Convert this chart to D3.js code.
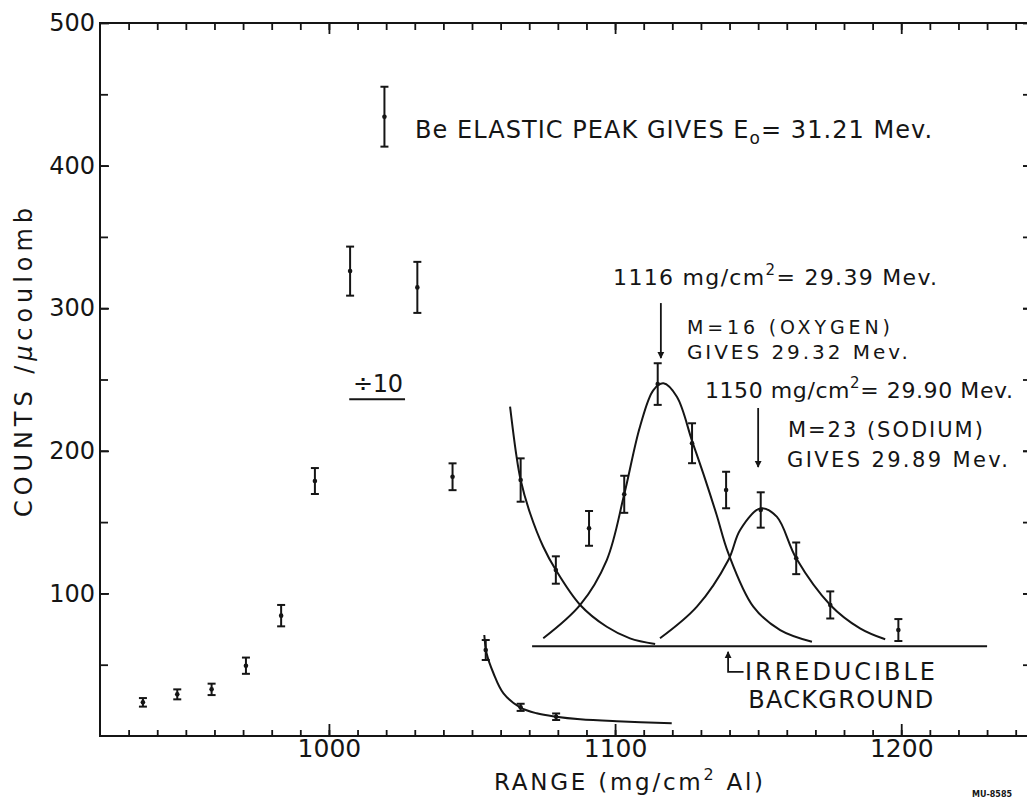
<!DOCTYPE html>
<html>
<head>
<meta charset="utf-8">
<script src="https://cdn.jsdelivr.net/npm/d3@7"></script>
<style>
  html, body { margin: 0; padding: 0; background: #fff; }
  svg { display: block; }
  text { font-family: "DejaVu Sans", "Liberation Sans", sans-serif; fill: #151515; }
</style>
</head>
<body>
<svg id="chart" width="1027" height="799"></svg>
<script>
// Measured counts on the low-range side, plotted divided by ten
const rangeScaled  = [935, 947, 959, 971, 983.3, 995.1, 1007.4, 1019.4, 1030.9, 1043.2, 1054.8, 1067, 1079.4];
const countsScaled = [23.6, 29.2, 32.7, 49.3, 84.4, 178.8, 326, 434.3, 314.6, 181.8, 60.3, 20.1, 13.5];
const errScaled    = [3, 3.5, 4, 5.7, 7.5, 9.1, 17.2, 21, 17.9, 9.4, 7, 2.5, 2.3];

// Measured counts in the oxygen / sodium region, full scale
const rangeFull  = [1067, 1079.3, 1090.9, 1103.2, 1114.9, 1126.9, 1138.8, 1150.9, 1163.3, 1175.2, 1199];
const countsFull = [179.5, 116.4, 145.6, 169.5, 246.8, 205.3, 172.5, 158.5, 124.6, 91.9, 74.3];
const errFull    = [15.2, 9.6, 12.2, 13, 14.6, 14, 12.8, 12.4, 11.1, 9.5, 7.7];

// Hand-fitted curves
const decayRange  = [1054.3, 1055.1, 1057.5, 1061, 1066.8, 1072.6, 1079.4, 1087.8, 1100.6, 1119.8];
const decayCounts = [70.8, 58, 44, 29.9, 20.1, 15.9, 13.5, 11.7, 10.3, 8.9];
const tailRange   = [1063.3, 1065.4, 1067.0, 1070.3, 1074.9, 1079.3, 1087.8, 1097.1, 1105.2, 1114.0];
const tailCounts  = [230.9, 198.2, 179.5, 156.2, 132.7, 116.4, 91.9, 76.6, 68.5, 64.5];
const oxygenRange  = [1074.9, 1087.8, 1097.1, 1103.2, 1108.7, 1113.4, 1116.9, 1121.6, 1126.9, 1131.5, 1135.5, 1139.6, 1148.3, 1157.7, 1168.8];
const oxygenCounts = [68.5, 91.9, 123.4, 169.5, 216.9, 242.6, 247.3, 237.9, 207, 180, 155, 128, 90.7, 74.3, 66.1];
const sodiumRange  = [1115.7, 1128.6, 1139.6, 1143.7, 1150.9, 1156.5, 1163.3, 1175.2, 1185.6, 1194.4];
const sodiumCounts = [68.5, 90.7, 123.4, 144.5, 159.7, 153.8, 124.6, 91.9, 75.5, 67.8];
const backgroundRange  = [1071, 1230];
const backgroundCounts = [63, 63];

// Axis ticks
const xMajorTicks = [1000, 1100, 1200];
const xMinorTicks = d3.range(930, 1245, 10);
const yMajorTicks = [100, 200, 300, 400, 500];
const yMinorTicks = d3.range(50, 500, 50);

// Peak positions named in the annotations
const oxygenPeakRange = 1116;
const sodiumPeakRange = 1150;

const svg = d3.select("#chart");
const x = d3.scaleLinear().domain([920, 1245]).range([100, 1030]);
const y = d3.scaleLinear().domain([0, 500]).range([736, 23]);
const ink = "#151515";

// frame
const frame = svg.append("g").attr("stroke", ink).attr("stroke-width", 2).attr("fill", "none");
frame.append("rect").attr("x", x(920)).attr("y", y(500))
  .attr("width", x(1245) - x(920)).attr("height", y(0) - y(500));

function styleAxis(g) {
  g.select(".domain").remove();
  g.selectAll(".tick line").attr("stroke", ink).attr("stroke-width", 1.8);
  g.selectAll(".tick text").attr("fill", ink).style("font-family", '"DejaVu Sans", sans-serif');
}

// bottom axis
svg.append("g").attr("transform", `translate(0,${y(0)})`)
  .call(d3.axisBottom(x).tickValues(xMinorTicks).tickSize(-6).tickFormat(""))
  .call(styleAxis);
svg.append("g").attr("transform", `translate(0,${y(0)})`)
  .call(d3.axisBottom(x).tickValues(xMajorTicks).tickSize(-12).tickPadding(3).tickFormat(d3.format("d")))
  .call(styleAxis)
  .call(g => g.selectAll(".tick text").attr("font-size", 25));
// top axis
svg.append("g").attr("transform", `translate(0,${y(500)})`)
  .call(d3.axisTop(x).tickValues(xMinorTicks).tickSize(-7).tickFormat(""))
  .call(styleAxis);
svg.append("g").attr("transform", `translate(0,${y(500)})`)
  .call(d3.axisTop(x).tickValues(xMajorTicks).tickSize(-11).tickFormat(""))
  .call(styleAxis);
// left axis
svg.append("g").attr("transform", `translate(${x(920)},0)`)
  .call(d3.axisLeft(y).tickValues(yMinorTicks).tickSize(-8).tickFormat(""))
  .call(styleAxis);
svg.append("g").attr("transform", `translate(${x(920)},0)`)
  .call(d3.axisLeft(y).tickValues(yMajorTicks).tickSize(-9).tickPadding(5).tickFormat(d3.format("d")))
  .call(styleAxis)
  .call(g => g.selectAll(".tick text").attr("font-size", 24));
// right axis
svg.append("g").attr("transform", `translate(${x(1245)},0)`)
  .call(d3.axisRight(y).tickValues(yMinorTicks.concat(yMajorTicks)).tickSize(-7).tickFormat(""))
  .call(styleAxis);

// axis titles
const xTitle = svg.append("text").attr("x", 494).attr("y", 790).attr("font-size", 23)
  .attr("textLength", 269).attr("lengthAdjust", "spacing");
xTitle.append("tspan").text("RANGE (mg/cm");
xTitle.append("tspan").attr("dy", -10).attr("font-size", 16).text("2");
xTitle.append("tspan").attr("dy", 10).text(" Al)");

const yTitle = svg.append("text")
  .attr("transform", "translate(32,517) rotate(-90)")
  .attr("font-size", 24).attr("textLength", 309).attr("lengthAdjust", "spacing");
yTitle.append("tspan").text("COUNTS /");
yTitle.append("tspan").attr("font-style", "italic").text("\u03bc");
yTitle.append("tspan").text("coulomb");

// curves
const line = d3.line().x(d => x(d[0])).y(d => y(d[1])).curve(d3.curveCatmullRom.alpha(0.5));
const curves = svg.append("g").attr("fill", "none").attr("stroke", ink).attr("stroke-width", 2);
[[decayRange, decayCounts], [tailRange, tailCounts], [oxygenRange, oxygenCounts],
 [sodiumRange, sodiumCounts], [backgroundRange, backgroundCounts]].forEach(([r, c]) => {
  curves.append("path").attr("d", line(d3.zip(r, c)));
});

// data points with error bars
function drawPoints(ranges, counts, errs) {
  const pts = d3.zip(ranges, counts, errs);
  const g = svg.append("g").attr("stroke", ink).attr("stroke-width", 2);
  const p = g.selectAll("g.pt").data(pts).join("g").attr("class", "pt");
  p.append("line").attr("x1", d => x(d[0])).attr("x2", d => x(d[0]))
    .attr("y1", d => y(d[1] + d[2])).attr("y2", d => y(d[1] - d[2]));
  p.append("line").attr("x1", d => x(d[0]) - 4).attr("x2", d => x(d[0]) + 4)
    .attr("y1", d => y(d[1] + d[2])).attr("y2", d => y(d[1] + d[2]));
  p.append("line").attr("x1", d => x(d[0]) - 4).attr("x2", d => x(d[0]) + 4)
    .attr("y1", d => y(d[1] - d[2])).attr("y2", d => y(d[1] - d[2]));
  p.append("circle").attr("cx", d => x(d[0])).attr("cy", d => y(d[1])).attr("r", 2.3)
    .attr("fill", ink).attr("stroke", "none");
}
drawPoints(rangeScaled, countsScaled, errScaled);
drawPoints(rangeFull, countsFull, errFull);

// arrows
svg.append("defs").append("marker").attr("id", "head")
  .attr("viewBox", "0 0 10 10").attr("refX", 9).attr("refY", 5)
  .attr("markerWidth", 4).attr("markerHeight", 5).attr("orient", "auto")
  .append("path").attr("d", "M0,0 L10,5 L0,10 Z").attr("fill", ink);
const arrows = svg.append("g").attr("stroke", ink).attr("stroke-width", 1.8);
arrows.append("line").attr("x1", x(oxygenPeakRange)).attr("x2", x(oxygenPeakRange))
  .attr("y1", y(303.6)).attr("y2", y(265)).attr("marker-end", "url(#head)");
arrows.append("line").attr("x1", x(sodiumPeakRange)).attr("x2", x(sodiumPeakRange))
  .attr("y1", y(230)).attr("y2", y(188.6)).attr("marker-end", "url(#head)");
// background pointer
arrows.append("path").attr("fill", "none")
  .attr("d", `M${x(1144.9)},${y(44.9)} L${x(1139.5)},${y(44.9)} L${x(1139.5)},${y(59)}`)
  .attr("marker-end", "url(#head)");

// annotations
function label(xv, yv, size, len) {
  const t = svg.append("text").attr("x", x(xv)).attr("y", y(yv)).attr("font-size", size);
  if (len) t.attr("textLength", len).attr("lengthAdjust", "spacing");
  return t;
}
const be = label(1030.1, 419.4, 24, 517);
be.append("tspan").text("Be  ELASTIC PEAK GIVES E");
be.append("tspan").attr("dy", 6).attr("font-size", 17).text("o");
be.append("tspan").attr("dy", -6).text("= 31.21 Mev.");

const o1 = label(1099.3, 316.3, 22, 324);
o1.append("tspan").text("1116 mg/cm");
o1.append("tspan").attr("dy", -10).attr("font-size", 15).text("2");
o1.append("tspan").attr("dy", 10).text("= 29.39 Mev.");
label(1125.1, 281.9, 19, 203).text("M=16 (OXYGEN)");
label(1125.1, 264.4, 20, 221).text("GIVES 29.32 Mev.");

const s1 = label(1131.4, 237, 22, 308);
s1.append("tspan").text("1150 mg/cm");
s1.append("tspan").attr("dy", -10).attr("font-size", 15).text("2");
s1.append("tspan").attr("dy", 10).text("= 29.90 Mev.");
label(1160.4, 210, 21, 195).text("M=23 (SODIUM)");
label(1160.1, 188.6, 21, 221).text("GIVES 29.89 Mev.");

label(1008.4, 241.2, 24, 50).text("\u00f710");
svg.append("line").attr("x1", x(1007.1)).attr("x2", x(1026.6))
  .attr("y1", y(236.1)).attr("y2", y(236.1)).attr("stroke", ink).attr("stroke-width", 2);

label(1145.4, 39.3, 24, 190).text("IRREDUCIBLE");
label(1146.5, 19.6, 24, 185).text("BACKGROUND");

svg.append("text").attr("x", 972).attr("y", 797).attr("font-size", 8)
  .attr("font-weight", "bold").text("MU-8585");
</script>
</body>
</html>
